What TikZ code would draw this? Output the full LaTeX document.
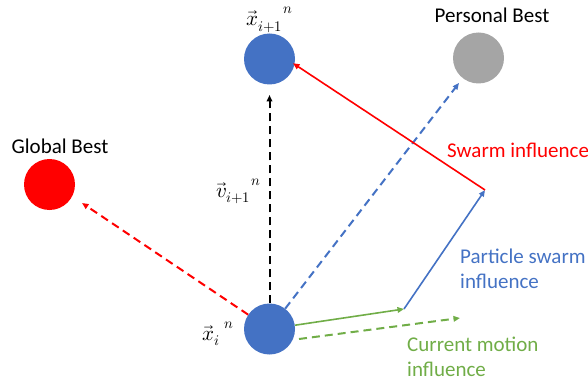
\documentclass[tikz,border=0pt]{standalone}
\usepackage{fontspec}
\usepackage{unicode-math}
\setmainfont{Carlito}
\setmathfont{Latin Modern Math}
\usetikzlibrary{arrows.meta}
\definecolor{oblue}{RGB}{68,114,196}
\definecolor{ogreen}{RGB}{112,173,71}
\definecolor{ogray}{RGB}{165,165,165}
\definecolor{ored}{RGB}{255,0,0}
\newcommand{\supn}[1]{\raisebox{#1}{$\scriptstyle n$}}
\begin{document}
\begin{tikzpicture}[x=1pt,y=-1pt,
  ball/.style={circle,inner sep=0pt,minimum size=51pt},
  lbl/.style={font=\fontsize{21}{25}\selectfont,inner sep=0pt},
  mlbl/.style={font=\fontsize{21}{25}\selectfont,inner sep=0pt},
  tipend/.style={-{Triangle[length=6.5pt,width=5.5pt]}},
  dsh/.style={tipend,line width=2pt,dash pattern=on 8pt off 5pt},
  sol/.style={tipend,line width=1.6pt}]
\useasboundingbox (0,0) rectangle (588,390);
% particles
\node[ball,fill=oblue] (xn) at (269.5,59) {};
\node[ball,fill=ogray] (pb) at (478.5,58) {};
\node[ball,fill=ored] (gb) at (49.5,184.5) {};
\node[ball,fill=oblue] (xi) at (269.5,329) {};
% labels
\node[lbl] (pbl) at (492,15) {Personal Best};
\node[lbl] (gbl) at (60,146) {Global Best};
\node[lbl,text=ored,anchor=west] (swl) at (447,150) {Swarm influence};
\node[lbl,text=oblue,anchor=north west,align=left] (psl) at (460,249) {Particle swarm\\influence};
\node[lbl,text=ogreen,anchor=north west,align=left] (cml) at (407,337) {Current motion\\influence};
\node[mlbl,anchor=base west] (lxn) at (246,26) {$\vec{x}_{i+1}$\kern1pt\supn{12pt}};
\node[mlbl,anchor=base west] (lv) at (216,197) {$\vec{v}_{i+1}$\kern1pt\supn{12pt}};
\node[mlbl,anchor=base west] (lxi) at (202,340) {$\vec{x}_{i}$\kern5pt\supn{12pt}};
% helper points
\coordinate (vt) at (269.5,95);
\coordinate (gt) at (82,203);
\coordinate (pt) at (459,83);
\coordinate (m) at (404,309);
\coordinate (sw) at (485,190);
\coordinate (gd0) at (299,339);
\coordinate (gd1) at (460,318);
% connectors
\draw[dsh,black] (xi) -- (vt);
\draw[dsh,ored] (xi) -- (gt);
\draw[dsh,oblue] (xi) -- (pt);
\draw[sol,ogreen] (xi) -- (m);
\draw[dsh,ogreen] (gd0) -- (gd1);
\draw[sol,oblue] (m) -- (sw);
\draw[sol,ored,shorten >=-2pt] (sw) -- (xn.-12);
\end{tikzpicture}
\end{document}
